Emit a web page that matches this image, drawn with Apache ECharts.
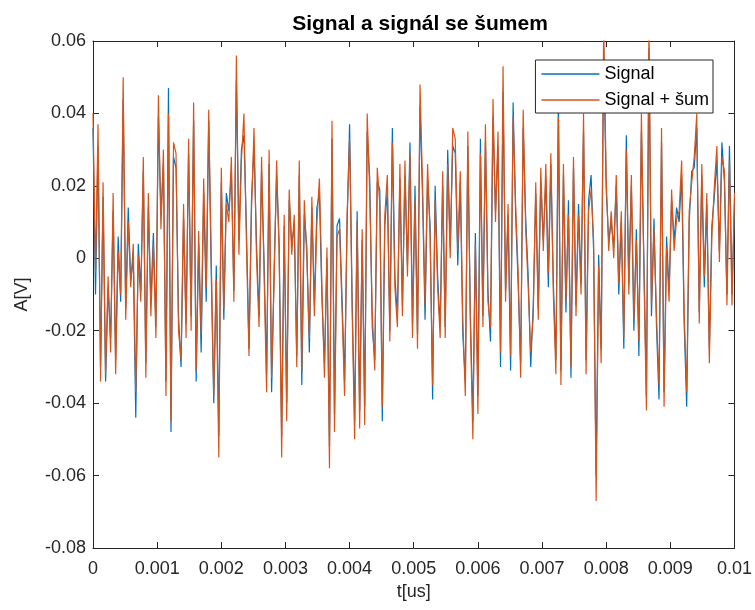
<!DOCTYPE html>
<html>
<head>
<meta charset="utf-8">
<script src="https://cdn.jsdelivr.net/npm/echarts@6/dist/echarts.min.js"></script>
<style>
  html, body { margin: 0; padding: 0; background: #fff; }
  #chart { width: 755px; height: 610px; }
</style>
</head>
<body>
<div id="chart"></div>
<script>
// time span of the record, samples spread evenly over it
const t_end = 0.01;

const x_ticks = [0, 0.001, 0.002, 0.003, 0.004, 0.005, 0.006, 0.007, 0.008, 0.009, 0.01];
const y_ticks = [-0.08, -0.06, -0.04, -0.02, 0, 0.02, 0.04, 0.06];

// clean signal (blue)
const signal = [
    0.036, -0.010, 0.031, -0.030, 0.017, -0.034, -0.008, -0.022, 0.013, -0.028,
    0.006, -0.012, 0.044, -0.014, 0.014, -0.006, 0.000, -0.044, 0.004, -0.009,
    0.024, -0.029, 0.014, -0.012, 0.007, -0.019, 0.039, 0.012, 0.026, -0.034,
    0.047, -0.048, 0.028, 0.025, -0.016, -0.030, 0.011, -0.018, 0.029, -0.016,
    0.038, -0.034,
    0.004, -0.026, 0.018, -0.012, 0.038, -0.004, -0.040, -0.002, -0.049, 0.021,
    -0.017, 0.018, 0.013, 0.024, -0.009, 0.049, 0.005, 0.030, 0.034, 0.008,
    -0.025, 0.016, 0.031, 0.004, -0.016, 0.024, -0.001, -0.032, 0.026, -0.037,
    -0.003, 0.023, 0.004, -0.049, 0.009, -0.040, 0.016, 0.004, 0.009, -0.027,
    0.023,
    -0.035, 0.012, 0.003, -0.026, 0.014, -0.013, 0.014, 0.018, -0.011, -0.029,
    0.000, -0.052, 0.033, -0.043, 0.009, 0.011, -0.011, -0.034, 0.009, 0.037,
    -0.011, -0.045, 0.013, -0.042, 0.005, -0.041, 0.035, 0.022, -0.019, -0.028,
    0.021, 0.019, -0.045, 0.009, 0.019, -0.020, 0.036, -0.005, -0.016, 0.022,
    -0.013, 0.023, -0.002, 0.032, -0.018, 0.020, -0.021, 0.042, 0.017, -0.017,
    0.022, 0.009, -0.039, 0.020, -0.005, -0.019, 0.020, -0.019, 0.030, 0.003,
    0.031, 0.029, -0.002, 0.021, -0.021, -0.034, 0.031, -0.015, -0.045, 0.007,
    -0.038, 0.033, -0.016, 0.032, -0.009, -0.023, 0.039, 0.013, 0.031, -0.030,
    0.046, -0.009, 0.012, -0.031, 0.043,
    0.012, -0.007, -0.029, 0.036, 0.011, -0.005, -0.030, -0.013, 0.018, -0.014,
    0.021, 0.005, 0.022, -0.008, 0.026, -0.007, -0.028, 0.044, -0.031, 0.023,
    -0.015, 0.016, -0.033, 0.025, -0.013, 0.015, -0.007, 0.035, -0.028, 0.016,
    0.023, 0.002, -0.060, 0.001, -0.025, 0.058, 0.019, 0.005, 0.010, 0.003,
    0.020, -0.010, 0.010, -0.025, 0.034, -0.007, 0.020, -0.020, 0.008, -0.027,
    0.035, -0.001, -0.038, 0.058, -0.016, 0.011, -0.019, -0.039, 0.032, -0.037,
    0.006, -0.009, 0.016, 0.005, 0.014, 0.010, 0.023, -0.018, -0.041, 0.010,
    0.024, 0.025, 0.036, -0.015, 0.023, -0.008, 0.015, -0.025, 0.009, 0.017,
    0.027, 0.002, 0.032, 0.021, -0.010, 0.031, -0.010, 0.015
];

// signal + noise (orange)
const noisy = [
    0.040, -0.004, 0.037, -0.034, 0.021, -0.032, -0.005, -0.026, 0.018, -0.032,
    0.002, -0.010, 0.050, -0.017, 0.010, -0.008, 0.004, -0.037, 0.001, -0.012,
    0.028, -0.033, 0.018, -0.016, 0.004, -0.022, 0.045, 0.008, 0.030, -0.038,
    0.040, -0.045, 0.032, 0.029, -0.020, -0.028, 0.015, -0.022, 0.033, -0.020,
    0.043, -0.031,
    0.0075, -0.021, 0.022, -0.008, 0.041, 0.000, -0.038, -0.006, -0.055, 0.025,
    -0.014, 0.015, 0.010, 0.028, -0.012, 0.056, 0.001, 0.027, 0.040, 0.004,
    -0.027, 0.013, 0.036, 0.000, -0.019, 0.028, -0.004, -0.037, 0.030, -0.033,
    -0.006, 0.027, 0.001, -0.055, 0.012, -0.045, 0.019, 0.001, 0.012, -0.030,
    0.027,
    -0.031, 0.016, 0.000, -0.022, 0.017, -0.016, 0.010, 0.022, -0.008, -0.033,
    0.003, -0.058, 0.038, -0.048, 0.006, 0.008, -0.014, -0.038, 0.012, 0.033,
    -0.014, -0.050, 0.010, -0.047, 0.008, -0.046, 0.040, 0.018, -0.015, -0.031,
    0.025, 0.015, -0.041, 0.012, 0.023, -0.023, 0.032, -0.008, -0.019, 0.026,
    -0.016, 0.027, -0.005, 0.029, -0.022, 0.016, -0.025, 0.048, 0.020, -0.013,
    0.026, 0.006, -0.035, 0.016, -0.008, -0.022, 0.024, -0.022, 0.026, 0.000,
    0.036, 0.033, 0.002, 0.024, -0.017, -0.038, 0.035, -0.018, -0.050, 0.004,
    -0.043, 0.029, -0.019, 0.037, -0.012, -0.019, 0.044, 0.010, 0.035, -0.026,
    0.053, -0.012, 0.015, -0.027, 0.039,
    0.015, -0.004, -0.033, 0.041, 0.008, -0.008, -0.026, -0.016, 0.021, -0.017,
    0.025, 0.002, 0.026, -0.004, 0.029, -0.010, -0.032, 0.039, -0.035, 0.026,
    -0.012, 0.012, -0.030, 0.028, -0.016, 0.012, -0.010, 0.040, -0.032, 0.013,
    0.019, 0.005, -0.067, -0.002, -0.029, 0.065, 0.022, 0.002, 0.013, 0.000,
    0.023, -0.007, 0.013, -0.022, 0.030, -0.010, 0.023, -0.017, 0.005, -0.023,
    0.040, -0.004, -0.042, 0.065, -0.013, 0.008, -0.016, -0.035, 0.036, -0.041,
    0.003, -0.012, 0.019, 0.002, 0.011, 0.013, 0.027, -0.015, -0.037, 0.013,
    0.021, 0.028, 0.040, -0.018, 0.026, -0.005, 0.018, -0.029, 0.006, 0.020,
    0.031, -0.001, 0.028, 0.024, -0.013, 0.027, -0.013, 0.018
];

const to_points = (arr) => arr.map((v, i) => [i * t_end / (arr.length - 1), v]);
const fmt = (v) => String(+v.toFixed(4));

const ink = "#262626";
const font = "'Liberation Sans', Arial, sans-serif";

const x_base = {
    type: "value",
    min: x_ticks[0],
    max: x_ticks[x_ticks.length - 1],
    interval: x_ticks[1] - x_ticks[0],
    axisLine: { show: true, onZero: false, lineStyle: { color: ink, width: 1 } },
    axisTick: { show: true, inside: true, length: 6, lineStyle: { color: ink } },
    splitLine: { show: false },
};
const y_base = {
    type: "value",
    min: y_ticks[0],
    max: y_ticks[y_ticks.length - 1],
    interval: y_ticks[1] - y_ticks[0],
    axisLine: { show: true, onZero: false, lineStyle: { color: ink, width: 1 } },
    axisTick: { show: true, inside: true, length: 6, lineStyle: { color: ink } },
    splitLine: { show: false },
};

const chart = echarts.init(document.getElementById("chart"), null, { renderer: "canvas" });

chart.setOption({
    animation: false,
    backgroundColor: "#fff",
    title: {
        text: "Signal a signál se šumem",
        left: 415,
        textAlign: "center",
        top: 9,
        textStyle: { fontFamily: font, fontSize: 21, fontWeight: "bold", color: "#000" },
    },
    legend: {
        orient: "vertical",
        right: 42,
        top: 60,
        backgroundColor: "#fff",
        borderColor: ink,
        borderWidth: 1,
        borderRadius: 0,
        padding: [3, 4, 2, 6],
        itemGap: 4,
        itemWidth: 58,
        itemHeight: 1.5,
        icon: "rect",
        textStyle: { fontFamily: font, fontSize: 18, lineHeight: 22, color: "#000" },
        data: ["Signal", "Signal + šum"],
    },
    grid: { left: 93, right: 20, top: 41, bottom: 62 },
    xAxis: [
        {
            ...x_base,
            position: "bottom",
            name: "t[us]",
            nameLocation: "middle",
            nameGap: 32,
            nameTextStyle: { fontFamily: font, fontSize: 18, color: ink },
            axisLabel: { fontFamily: font, fontSize: 18, color: ink, margin: 12, formatter: fmt },
        },
        { ...x_base, position: "top", axisLabel: { show: false } },
    ],
    yAxis: [
        {
            ...y_base,
            position: "left",
            name: "A[V]",
            nameLocation: "middle",
            nameGap: 62,
            nameTextStyle: { fontFamily: font, fontSize: 18, color: ink },
            axisLabel: { fontFamily: font, fontSize: 18, color: ink, margin: 7, formatter: fmt },
        },
        { ...y_base, position: "right", axisLabel: { show: false } },
    ],
    series: [
        {
            name: "Signal",
            type: "line",
            xAxisIndex: 0,
            yAxisIndex: 0,
            data: to_points(signal),
            symbol: "none",
            clip: true,
            lineStyle: { color: "#0072BD", width: 1.2 },
            itemStyle: { color: "#0072BD" },
        },
        {
            name: "Signal + šum",
            type: "line",
            xAxisIndex: 0,
            yAxisIndex: 0,
            data: to_points(noisy),
            symbol: "none",
            clip: true,
            lineStyle: { color: "#D95319", width: 1.2 },
            itemStyle: { color: "#D95319" },
        },
    ],
});
</script>
</body>
</html>
